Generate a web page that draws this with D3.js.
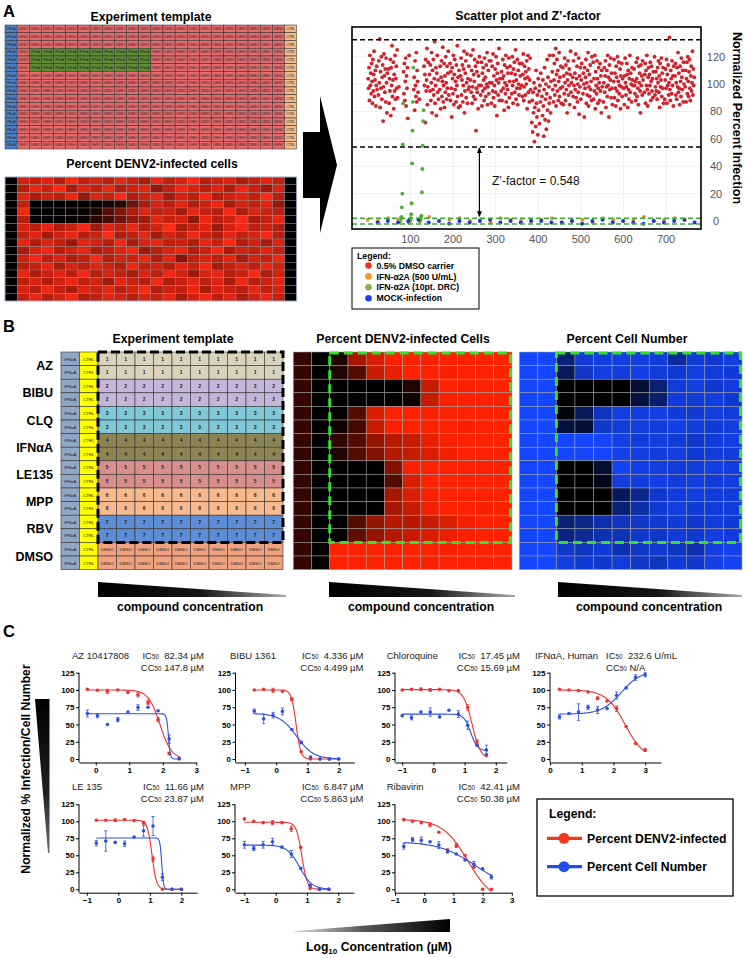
<!DOCTYPE html>
<html><head><meta charset="utf-8">
<script src="https://cdn.jsdelivr.net/npm/d3@7/dist/d3.min.js"></script>
<style>
body{margin:0;background:#fff}
svg{display:block}
text{font-family:"Liberation Sans",Arial,Helvetica,sans-serif}
</style>
</head><body>
<svg id="fig" width="746" height="958"></svg>
<script>
// ===================== DATA =====================
// ---- Panel A : 384-well plates (16 rows x 24 cols) ----
const drcRows = [3, 4, 5];           // rows of plate 1 holding the IFN-α2A 10-pt DRC
const drcFirstCol = 2, drcLastCol = 11;
// DMSO carrier wells, columns 1..22 ; "x" marks an IFN-α2A DRC well
const plate1Dmso = [
 "104 97 112 88 121 99 108 93 115 102 86 118 95 107 124 91 103 110 84 99 113 96",
 "92 117 101 133 83 109 97 120 89 105 114 73 98 122 106 94 111 87 119 101 79 108",
 "111 86 104 95 118 77 112 99 128 91 103 116 82 107 95 121 89 104 113 97 125 90",
 "98 x x x x x x x x x x 109 93 115 88 102 119 84 106 97 112 75",
 "121 x x x x x x x x x x 96 105 81 117 99 91 123 87 110 102 94",
 "89 x x x x x x x x x x 113 99 107 72 118 95 103 126 85 98 116",
 "107 95 114 88 101 123 79 110 96 118 92 104 131 86 99 112 77 108 121 94 103 89",
 "96 113 82 105 117 91 102 127 87 99 115 83 106 94 120 101 89 113 97 108 124 92",
 "115 88 109 97 76 112 104 93 121 85 107 118 96 102 87 114 99 128 91 105 83 110",
 "84 106 119 92 103 114 87 99 111 124 79 95 108 117 90 101 122 86 104 96 113 98",
 "103 121 94 110 86 98 125 91 107 102 118 89 113 66 97 109 94 116 82 106 99 120",
 "92 99 116 84 108 95 112 103 88 119 97 105 91 114 100 123 85 98 110 93 117 101",
 "117 86 101 113 95 122 90 106 99 84 111 94 120 103 77 108 115 92 101 126 88 104",
 "95 109 88 104 118 97 106 81 114 101 93 121 87 99 112 96 108 83 119 90 102 113",
 "108 93 120 99 86 111 102 116 94 107 125 89 103 97 118 85 110 100 92 115 97 106",
 "99 115 91 107 122 88 98 113 104 92 109 100 117 82 105 121 94 111 87 103 119 96"
];
const plate2Dmso = [
 "72 88 65 94 79 101 58 83 97 69 110 86 76 92 63 104 81 95 71 99 87 108",
 "91 77 103 84 62 96 112 74 89 100 67 93 118 81 105 73 98 86 121 90 79 102",
 "109 96 121 87 103 115 92 99 126 84 107 118 95 110 88 102 123 91 105 97 113 86",
 "98 112 85 106 93 119 101 88 114 96 108 79 103 117 92 99 111 85 107 124 94 101",
 "105 91 117 99 83 108 96 122 90 104 113 87 100 94 119 78 106 98 112 89 103 115",
 "93 108 100 76 112 97 105 118 86 101 92 110 123 84 98 107 91 114 96 102 88 120",
 "116 89 104 95 121 82 109 99 93 117 104 86 97 112 101 88 115 95 106 79 110 98",
 "87 101 112 94 106 117 83 98 110 91 121 99 105 76 114 96 103 119 90 108 97 85",
 "102 118 90 108 97 84 113 105 95 120 88 102 116 93 99 111 82 106 98 115 91 104",
 "97 85 106 119 101 92 98 115 107 83 110 96 89 104 121 94 108 100 87 112 103 99",
 "111 99 93 102 88 116 104 91 119 97 85 113 101 108 95 79 114 99 106 92 117 103",
 "94 107 115 86 110 99 121 96 84 105 112 93 107 99 116 88 102 113 95 104 90 109",
 "120 92 98 109 95 104 89 112 101 117 94 106 83 115 98 103 119 91 108 97 112 86",
 "89 103 111 97 118 86 107 99 114 92 101 134 96 88 110 104 93 117 99 106 84 113",
 "106 115 92 101 89 112 98 123 94 108 97 85 113 102 91 119 105 96 110 87 116 100",
 "98 110 87 104 116 93 120 102 91 109 118 97 88 106 113 95 101 124 92 111 99 105"
];
// IFN-α2A 10-pt DRC values (cols 2..11) for rows 3,4,5 of plate 1
const drcValues = [
 [0, 0, 0, 1, 2, 3, 10, 20, 56, 86],
 [0, 0, 1, 2, 5, 13, 42, 66, 87, 112],
 [0, 0, 1, 3, 4, 21, 38, 55, 73, 81]
];
const ifnCtrlPlate1 = [1, 0, 2, 1, -1, 1, 3, 0, 1, 2, 0, 1, -1, 2, 1, 0];
const ifnCtrlPlate2 = [0, 1, 2, -1, 0, 1, -1, 2, 1, 0, 1, 3, 0, 1, 2, 1];
const mockPlate1 = [-1, 0, -1, 0, 1, -1, 0, -2, 0, -1, 0, 1, -1, 0, -1, 0];
const mockPlate2 = [0, -1, -1, 0, -2, 0, 1, -1, 0, -1, -2, 0, -1, 0, 1, -1];
const scatterXTicks = [100, 200, 300, 400, 500, 600, 700];
const scatterYTicks = [0, 20, 40, 60, 80, 100, 120];
const zBandLines = [132.4, 54];      // mean ± 3SD of DMSO (black dashed)
const zMockLines = [2.0, -2.2];      // mean ± 3SD of controls (green dashed)
const zFactorValue = "0.548";
const scatterLegendLabels = ["0.5% DMSO carrier", "IFN-α2A (500 U/mL)", "IFN-α2A (10pt. DRC)", "MOCK-infection"];

// ---- Panel B ----
const compoundNames = ["AZ", "BIBU", "CLQ", "IFNαA", "LE135", "MPP", "RBV", "DMSO"];
const templateLabels = ["1", "2", "3", "4", "5", "6", "7", "DMSO"];
// percent infection heat map, 16 rows x 12 cols (col0 IFNαA, col1 CTRL, cols 2..11 dilution series)
const infectionHeat = [
 [20,0,12,65,85,100,100,98,100,99,100,100],
 [20,0,12,33,78,92,100,100,98,100,100,99],
 [20,0,0,0,0,0,12,78,100,98,100,100],
 [20,0,0,0,0,0,6,78,97,100,100,99],
 [20,0,2,33,85,100,100,98,100,100,99,100],
 [20,0,6,26,78,98,100,100,100,98,100,100],
 [20,0,20,33,58,72,78,92,98,100,100,99],
 [20,0,13,33,52,72,78,85,95,100,99,100],
 [20,0,0,0,0,52,98,100,100,100,100,100],
 [20,0,0,0,0,33,85,100,100,99,100,100],
 [20,0,0,0,0,65,85,98,100,100,100,99],
 [20,0,0,0,0,65,78,95,100,100,98,100],
 [20,0,0,33,58,72,72,78,85,95,100,100],
 [20,0,0,38,58,72,78,85,92,98,100,100],
 [20,0,100,100,100,99,100,100,98,100,100,100],
 [20,0,100,99,100,100,100,98,100,100,99,100]
];
// percent cell number heat map
const cellHeat = [
 [100,100,45,85,88,90,88,86,60,85,82,88],
 [100,100,35,78,88,86,90,85,82,88,86,84],
 [100,100,0,0,0,0,20,45,85,88,80,86],
 [100,100,0,0,0,0,25,42,86,84,88,82],
 [100,100,5,35,75,88,86,90,84,82,88,85],
 [100,100,25,20,80,86,88,85,90,86,84,88],
 [100,100,100,100,98,90,86,88,84,78,86,88],
 [100,100,100,98,100,92,88,86,88,84,86,85],
 [100,100,0,0,20,95,90,88,86,85,90,86],
 [100,100,0,0,10,88,86,90,85,88,84,88],
 [100,100,0,0,0,35,55,80,86,88,85,84],
 [100,100,0,0,0,45,65,82,88,84,86,85],
 [100,100,45,55,68,75,78,82,84,80,86,84],
 [100,100,50,58,70,72,80,78,85,82,88,86],
 [100,100,80,75,84,70,78,82,74,70,88,92],
 [100,100,88,84,80,86,78,74,84,80,90,95]
];
const wedgeLabel = "compound concentration";

// ---- Panel C : dose–response ----
const doseNames = ["AZ 10417808", "BIBU 1361", "Chloroquine", "IFNαA, Human", "LE 135", "MPP", "Ribavirin"];
const ic50Text = ["82.34 µM", "4.336 µM", "17.45 µM", "232.6 U/mL", "11.66 µM", "6.847 µM", "42.41 µM"];
const cc50Text = ["147.8 µM", "4.499 µM", "15.69 µM", "N/A", "23.87 µM", "5.863 µM", "50.38 µM"];
const doseX = [
 [-0.25, 0.05, 0.35, 0.66, 0.96, 1.26, 1.56, 1.86, 2.19, 2.49],
 [-0.7, -0.4, -0.1, 0.2, 0.5, 0.8, 1.1, 1.4, 1.7, 2.0],
 [-1.0, -0.7, -0.4, -0.1, 0.2, 0.5, 0.8, 1.1, 1.4, 1.7],
 [0.3, 0.6, 0.9, 1.2, 1.5, 1.8, 2.1, 2.4, 2.7, 3.0],
 [-0.7, -0.4, -0.1, 0.2, 0.5, 0.8, 1.1, 1.4, 1.7, 2.0],
 [-1.0, -0.7, -0.4, -0.1, 0.2, 0.5, 0.8, 1.1, 1.4, 1.7],
 [-0.7, -0.4, -0.1, 0.2, 0.5, 0.8, 1.1, 1.4, 1.7, 2.0, 2.3]
];
const infY = [
 [101, 99.7, 98, 100, 96.5, 93, 82, 57, 8, 0],
 [100, 101, 99.5, 98, 86.7, 10.6, 0, 0, 0, 0],
 [100, 101, 101, 100, 101, 99, 99, 74.7, 25, 5.8],
 [101, 100, 99, 97, 88, 84, 73, 47, 22.6, 13],
 [101.5, 101.5, 101.5, 102.5, 101, 98, 44.8, 0, 0, 0],
 [103.5, 100, 98, 98, 98, 89, 61.6, 2, 0, 0],
 [102.5, 100, 98, 95, 84, 58, 64.5, 49.7, 32.5, 0, 0]
];
const infErr = [
 [0, 0, 3, 0, 0, 3, 3, 3, 2, 0],
 [0, 0, 3, 0, 2, 0, 0, 0, 0, 0],
 [0, 0, 2, 2, 0, 0, 0, 4, 3, 2],
 [0, 0, 0, 0, 2, 0, 4, 0, 0, 2],
 [0, 0, 2, 0, 0, 2, 4, 0, 0, 0],
 [0, 0, 0, 3, 0, 4, 0, 2, 0, 0],
 [0, 0, 0, 3, 0, 0, 3, 0, 0, 0, 0]
];
const cellY = [
 [66, 62.6, 50, 57, 68, 74.5, 75, 70, 29, 1],
 [69.4, 58.2, 63.6, 69, 42.8, 24, 3, 0, 0, 0],
 [62.6, 59.7, 68, 68, 61, 70.7, 65, 49, 20, 13],
 [61, 66, 68, 75, 71, 73, 92, 103, 118, 122],
 [68, 71, 69, 67, 77, 86, 93, 17.7, 0, 0],
 [65.5, 60, 65.5, 70, 62, 52, 31, 6, 0, 0],
 [63, 73, 72, 70, 65, 55, 52, 43, 37, 30, 18]
];
const cellErr = [
 [5, 3, 0, 3, 0, 4, 0, 0, 6, 0],
 [3, 7, 4, 5, 0, 2, 0, 0, 0, 0],
 [0, 3, 0, 6, 0, 0, 5, 6, 0, 7],
 [3, 0, 12, 3, 5, 0, 5, 0, 4, 3],
 [4, 15, 0, 4, 0, 8, 14, 5, 0, 0],
 [5, 3, 5, 5, 0, 5, 0, 0, 0, 0],
 [4, 3, 5, 0, 5, 0, 0, 0, 4, 0, 3]
];
// fitted 4-parameter logistic curves: [left plateau, right plateau, log midpoint, hill]
const infFit = [[100,0,1.916,2.5],[100,0,0.637,5.8],[100.5,0,1.242,3.2],[100,0,2.367,1.45],[101.5,0,1.067,6],[98.5,0,0.835,5],[103,-20,1.5,1.0]];
const cellFit = [[65.5,0,2.17,15],[66,0,0.653,1.6],[65,12,1.196,4],[65,128,2.25,1.4],[75.5,0,1.378,15],[65,0,0.768,2.2],[70,0,1.75,0.7]];
const doseYTicks = [0, 25, 50, 75, 100, 125];
const doseLegendLabels = ["Percent DENV2-infected", "Percent Cell Number"];

// ===================== LAYOUT / STYLE =====================
const RED_C = "#ee3030", BLUE_C = "#2f4fe0";
const svg = d3.select("#fig");
svg.append("rect").attr("width", 746).attr("height", 958).attr("fill", "#fff");
const defs = svg.append("defs");
function grad(id, x2, y2, stops) {
  const g = defs.append("linearGradient").attr("id", id).attr("x1", 0).attr("y1", 0).attr("x2", x2).attr("y2", y2);
  stops.forEach(s => g.append("stop").attr("offset", s[0]).attr("stop-color", s[1]));
}
grad("wedgeH", 1, 0, [[0, "#000"], [0.55, "#151515"], [1, "#a8a8a8"]]);
grad("wedgeV", 0, 1, [[0, "#000"], [0.6, "#202020"], [1, "#707070"]]);
grad("wedgeLog", 1, 0, [[0, "#d8d8d8"], [0.45, "#555"], [1, "#000"]]);

function addText(p, x, y, s, size, weight, anchor, fill) {
  return p.append("text").attr("x", x).attr("y", y).attr("font-size", size)
    .attr("font-weight", weight || "normal").attr("text-anchor", anchor || "start")
    .attr("fill", fill || "#000").text(s);
}

// panel letters
addText(svg, 3, 17, "A", 16.5, "bold");
addText(svg, 3, 332, "B", 16.5, "bold");
addText(svg, 3, 637, "C", 16.5, "bold");

// ===================== PANEL A =====================
function parseRow(s) { return s.trim().split(/\s+/); }
const wells = [];
[[plate1Dmso, ifnCtrlPlate1, mockPlate1], [plate2Dmso, ifnCtrlPlate2, mockPlate2]].forEach((pl, p) => {
  const rows = pl[0].map(parseRow);
  for (let r = 0; r < 16; r++) {
    for (let c = 0; c < 24; c++) {
      let type, v;
      if (c === 0) { type = "ifn"; v = pl[1][r]; }
      else if (c === 23) { type = "mock"; v = pl[2][r]; }
      else if (p === 0 && drcRows.includes(r) && c >= drcFirstCol && c <= drcLastCol) {
        type = "drc"; v = drcValues[drcRows.indexOf(r)][c - drcFirstCol];
      } else { type = "dmso"; v = +rows[r][c - 1]; }
      if (v === undefined || isNaN(v)) continue;
      wells.push({ p, r, c, type, v, idx: p * 384 + r * 24 + c });
    }
  }
});
const plate1 = wells.filter(d => d.p === 0);

// template
const xA = d3.scaleBand().domain(d3.range(24)).range([5, 296.7]);
const yAt = d3.scaleBand().domain(d3.range(16)).range([25, 149]);
const yAh = d3.scaleBand().domain(d3.range(16)).range([177, 301]);
const tplFill = { ifn: "#4b80c6", mock: "#f2b98a", drc: "#5f8d33", dmso: "#e66a6c" };
const tplText = { ifn: "IFNαA", mock: "CTRL", drc: "IFNαA", dmso: "DMSO" };
addText(svg, 151, 20.5, "Experiment template", 12.3, "bold", "middle");
const gTA = svg.append("g");
gTA.selectAll("rect").data(plate1).join("rect")
  .attr("x", d => xA(d.c)).attr("y", d => yAt(d.r))
  .attr("width", xA.bandwidth()).attr("height", yAt.bandwidth())
  .attr("fill", d => tplFill[d.type]).attr("stroke", "#2a2a2a").attr("stroke-width", 0.5);
gTA.selectAll("text").data(plate1).join("text")
  .attr("x", d => xA(d.c) + xA.bandwidth() / 2).attr("y", d => yAt(d.r) + yAt.bandwidth() / 2 + 1.2)
  .attr("text-anchor", "middle").attr("font-size", 3.2).attr("fill", "#222").text(d => tplText[d.type]);

// heat map A
addText(svg, 152, 167.5, "Percent DENV2-infected cells", 12.3, "bold", "middle");
const redHeatA = d3.scaleLinear().domain([0, 128]).range(["#000000", "#ff2a14"]).clamp(true);
const gHA = svg.append("g");
gHA.selectAll("rect").data(plate1).join("rect")
  .attr("x", d => xA(d.c)).attr("y", d => yAh(d.r))
  .attr("width", xA.bandwidth()).attr("height", yAh.bandwidth())
  .attr("fill", d => redHeatA(Math.max(0, d.v))).attr("stroke", "#8a8a8a").attr("stroke-width", 0.35);
svg.append("rect").attr("x", 5).attr("y", 177).attr("width", 291.7).attr("height", 124)
  .attr("fill", "none").attr("stroke", "#9fb6d6").attr("stroke-width", 0.8);

// big arrow
svg.append("path").attr("d", "M303,132 L320,132 L320,96 L337,165 L320,233 L320,198 L303,198 Z").attr("fill", "#000");

// scatter
const sx = d3.scaleLinear().domain([-37, 782]).range([352, 701]);
const sy = d3.scaleLinear().domain([-5.8, 141.7]).range([229, 27]);
addText(svg, 528, 19.5, "Scatter plot and Z’-factor", 12.3, "bold", "middle");
const gS = svg.append("g");
gS.selectAll(".gx").data(scatterXTicks).join("line").attr("class", "gx")
  .attr("x1", d => sx(d)).attr("x2", d => sx(d)).attr("y1", 27).attr("y2", 229)
  .attr("stroke", "#ececec").attr("stroke-width", 0.8);
gS.selectAll(".gy").data(scatterYTicks).join("line").attr("class", "gy")
  .attr("y1", d => sy(d)).attr("y2", d => sy(d)).attr("x1", 352).attr("x2", 701)
  .attr("stroke", "#ececec").attr("stroke-width", 0.8);
const scatCol = { dmso: "#d0232b", drc: "#5aab3a", ifn: "#f0892a", mock: "#1f33dc" };
["dmso", "drc", "ifn", "mock"].forEach(t => {
  gS.selectAll(".pt-" + t).data(wells.filter(d => d.type === t)).join("circle").attr("class", "pt-" + t)
    .attr("cx", d => sx(d.idx)).attr("cy", d => sy(d.v)).attr("r", 1.95).attr("fill", scatCol[t]);
});
gS.selectAll(".zb").data(zBandLines).join("line").attr("class", "zb")
  .attr("x1", 352).attr("x2", 701).attr("y1", d => sy(d)).attr("y2", d => sy(d))
  .attr("stroke", "#000").attr("stroke-width", 1.5).attr("stroke-dasharray", "5,3");
gS.selectAll(".zm").data(zMockLines).join("line").attr("class", "zm")
  .attr("x1", 352).attr("x2", 701).attr("y1", d => sy(d)).attr("y2", d => sy(d))
  .attr("stroke", "#33b033").attr("stroke-width", 1.5).attr("stroke-dasharray", "5,3");
// Z' arrow
const arX = sx(262);
gS.append("line").attr("x1", arX).attr("x2", arX).attr("y1", sy(zBandLines[1]) + 2).attr("y2", sy(zMockLines[0]) - 3)
  .attr("stroke", "#000").attr("stroke-width", 1.2);
gS.append("path").attr("d", `M${arX - 2.5},${sy(zBandLines[1]) + 6} L${arX},${sy(zBandLines[1])} L${arX + 2.5},${sy(zBandLines[1]) + 6} Z`).attr("fill", "#000");
gS.append("path").attr("d", `M${arX - 2.5},${sy(zMockLines[0]) - 7} L${arX},${sy(zMockLines[0]) - 1} L${arX + 2.5},${sy(zMockLines[0]) - 7} Z`).attr("fill", "#000");
addText(gS, 492, 184.5, "Z’-factor = " + zFactorValue, 12, "normal", "start", "#111");
gS.append("rect").attr("x", 352).attr("y", 27).attr("width", 349).attr("height", 202)
  .attr("fill", "none").attr("stroke", "#000").attr("stroke-width", 1.6);
gS.selectAll(".xl").data(scatterXTicks).join("text").attr("class", "xl")
  .attr("x", d => sx(d)).attr("y", 243).attr("text-anchor", "middle").attr("font-size", 11).attr("fill", "#555").text(d => d);
gS.selectAll(".yl").data(scatterYTicks).join("text").attr("class", "yl")
  .attr("x", 716).attr("y", d => sy(d) + 4).attr("text-anchor", "middle").attr("font-size", 11).attr("fill", "#555").text(d => d);
svg.append("text").attr("transform", "translate(737,118) rotate(90)").attr("dy", "0.35em")
  .attr("text-anchor", "middle").attr("font-size", 12.5).attr("font-weight", "bold").text("Normalized Percent Infection");
// scatter legend
const gL = svg.append("g");
gL.append("rect").attr("x", 352).attr("y", 248).attr("width", 127).attr("height", 61)
  .attr("fill", "#fff").attr("stroke", "#000").attr("stroke-width", 1);
addText(gL, 357, 258.5, "Legend:", 8.7, "bold");
const legCols = ["#ee3322", "#f39a2c", "#86b04a", "#2040e6"];
scatterLegendLabels.forEach((s, i) => {
  const cy = 265.5 + i * 10.9;
  gL.append("circle").attr("cx", 368.5).attr("cy", cy).attr("r", 3.3).attr("fill", legCols[i]);
  addText(gL, 376.5, cy + 3.1, s, 8.7, "bold");
});

// ===================== PANEL B =====================
const xB = d3.scaleBand().domain(d3.range(12)).range([61, 283]);
const yB = d3.scaleBand().domain(d3.range(16)).range([352, 569.6]);
const compoundColors = ["#d9d3be", "#c6b5da", "#80c7d7", "#8c8553", "#d98e8e", "#f6ba8e", "#5d8dd5", "#f2a27e"];
addText(svg, 173, 343, "Experiment template", 12.3, "bold", "middle");
const tplB = [];
for (let r = 0; r < 16; r++) for (let c = 0; c < 12; c++) {
  const g = Math.floor(r / 2);
  tplB.push({ r, c, g, fill: c === 0 ? "#8fa6c6" : c === 1 ? "#ffff00" : compoundColors[g],
    label: c === 0 ? "IFNαA" : c === 1 ? "CTRL" : templateLabels[g] });
}
const gTB = svg.append("g");
gTB.selectAll("rect").data(tplB).join("rect")
  .attr("x", d => xB(d.c)).attr("y", d => yB(d.r)).attr("width", xB.bandwidth()).attr("height", yB.bandwidth())
  .attr("fill", d => d.fill).attr("stroke", "#333").attr("stroke-width", 0.6);
gTB.selectAll("text").data(tplB).join("text")
  .attr("x", d => xB(d.c) + xB.bandwidth() / 2).attr("y", d => yB(d.r) + yB.bandwidth() / 2 + 1.7)
  .attr("text-anchor", "middle").attr("font-weight", d => d.c >= 2 && d.g < 7 ? "bold" : "normal")
  .attr("font-size", d => d.c >= 2 && d.g < 7 ? 5 : 4.2).attr("fill", "#222").text(d => d.label);
gTB.append("rect").attr("x", xB(2)).attr("y", yB(0)).attr("width", 283 - xB(2)).attr("height", yB(14) - yB(0))
  .attr("fill", "none").attr("stroke", "#000").attr("stroke-width", 3).attr("stroke-dasharray", "9,4");
compoundNames.forEach((n, i) => {
  addText(svg, 53, yB(2 * i) + yB.bandwidth() + 4.5, n, 12.5, "bold", "end");
});

function heatB(data, x0, x1, colorEnd, title, titleX) {
  const xs = d3.scaleBand().domain(d3.range(12)).range([x0, x1]);
  const col = d3.scaleLinear().domain([0, 100]).range(["#000000", colorEnd]).clamp(true);
  const cells = [];
  data.forEach((row, r) => row.forEach((v, c) => cells.push({ r, c, v })));
  const g = svg.append("g");
  g.selectAll("rect").data(cells).join("rect")
    .attr("x", d => xs(d.c)).attr("y", d => yB(d.r)).attr("width", xs.bandwidth()).attr("height", yB.bandwidth())
    .attr("fill", d => col(d.v)).attr("stroke", "#a0a0a0").attr("stroke-width", 0.5);
  g.append("rect").attr("x", xs(2)).attr("y", yB(0) + 1).attr("width", x1 - xs(2) - 1.5).attr("height", yB(14) - yB(0) - 1)
    .attr("fill", "none").attr("stroke", "#33e02a").attr("stroke-width", 3).attr("stroke-dasharray", "9,5");
  addText(svg, titleX, 343, title, 12.3, "bold", "middle");
}
heatB(infectionHeat, 293.3, 512, "#ff2200", "Percent DENV2-infected Cells", 403);
heatB(cellHeat, 519.3, 742, "#1446ff", "Percent Cell Number", 627);

// concentration wedges
[[98, 286, 190], [329, 515, 421], [558, 742, 649]].forEach(w => {
  svg.append("path").attr("d", `M${w[0]},582 L${w[1]},595 L${w[1]},597 L${w[0]},597 Z`).attr("fill", "url(#wedgeH)");
  addText(svg, w[2], 611, wedgeLabel, 12.2, "bold", "middle");
});

// ===================== PANEL C =====================
const doseLayout = [
  { left: 79, right: 196.3, xDomain: [-0.5, 3], ticks: [0, 1, 2, 3], row: 0, titleX: 72, labelRight: 204 },
  { left: 235.5, right: 354.4, xDomain: [-1.3, 2.5], ticks: [-1, 0, 1, 2], row: 0, titleX: 230, labelRight: 363.5 },
  { left: 395, right: 506.7, xDomain: [-1.23, 2.35], ticks: [-1, 0, 1, 2], row: 0, titleX: 386.7, labelRight: 520 },
  { left: 550, right: 661, xDomain: [0, 3.5], ticks: [0, 1, 2, 3], row: 0, titleX: 535, labelRight: 677 },
  { left: 79, right: 197.1, xDomain: [-1.25, 2.5], ticks: [-1, 0, 1, 2], row: 1, titleX: 72, labelRight: 204 },
  { left: 235, right: 353.9, xDomain: [-1.3, 2.5], ticks: [-1, 0, 1, 2], row: 1, titleX: 230, labelRight: 363.5 },
  { left: 395, right: 511.8, xDomain: [-1, 3], ticks: [-1, 0, 1, 2, 3], row: 1, titleX: 386.7, labelRight: 520 }
];
const rowGeom = [{ yRange: [762.5, 672.7], t1: 659.4, t2: 671.2, xl: 773.5 }, { yRange: [892.7, 804.3], t1: 790.4, t2: 801.7, xl: 902.5 }];
function logistic(p, x) { return p[1] + (p[0] - p[1]) / (1 + Math.pow(10, p[3] * (x - p[2]))); }

doseLayout.forEach((L, i) => {
  const G = rowGeom[L.row];
  const x = d3.scaleLinear().domain(L.xDomain).range([L.left, L.right]);
  const y = d3.scaleLinear().domain([-5, 125]).range(G.yRange);
  const g = svg.append("g");
  // titles
  addText(g, L.titleX, G.t1, doseNames[i], 9.5, "normal", "start", "#222");
  const t1 = g.append("text").attr("x", L.labelRight).attr("y", G.t1).attr("text-anchor", "end")
    .attr("font-size", 9.5).attr("fill", "#222").style("white-space", "pre");
  t1.append("tspan").text("IC");
  t1.append("tspan").attr("font-size", 6.3).text("50");
  t1.append("tspan").text("  " + ic50Text[i]);
  const t2 = g.append("text").attr("y", G.t2).attr("font-size", 9.5).attr("fill", "#222").style("white-space", "pre");
  t2.append("tspan").text("CC");
  t2.append("tspan").attr("font-size", 6.3).text("50");
  t2.append("tspan").text(" " + cc50Text[i]);
  if (cc50Text[i] === "N/A") t2.attr("x", t1.node().getBBox().x).attr("text-anchor", "start");
  else t2.attr("x", L.labelRight).attr("text-anchor", "end");
  // axes
  const ay = g.append("g").attr("transform", `translate(${L.left},0)`)
    .call(d3.axisLeft(y).tickValues(doseYTicks).tickSize(3).tickSizeOuter(0).tickPadding(1.5));
  const ax = g.append("g").attr("transform", `translate(0,${y(-5)})`)
    .call(d3.axisBottom(x).tickValues(L.ticks).tickSize(3).tickSizeOuter(0).tickPadding(2).tickFormat(d3.format("d")));
  [ay, ax].forEach(a => {
    a.selectAll("text").attr("font-size", 8).attr("font-weight", "bold").attr("fill", "#000")
      .attr("font-family", '"Liberation Sans",Arial,sans-serif');
    a.selectAll("path,line").attr("stroke", "#000").attr("stroke-width", 1);
  });
  ay.select(".domain").attr("d", `M0,${y(125)}V${y(-5)}`);
  // curves & points
  [[infFit[i], infY[i], infErr[i], RED_C], [cellFit[i], cellY[i], cellErr[i], BLUE_C]].forEach(s => {
    const xs = doseX[i];
    const xmin = d3.min(xs), xmax = d3.max(xs);
    const samples = d3.range(0, 201).map(k => xmin + (xmax - xmin) * k / 200);
    g.append("path").attr("d", d3.line().x(d => x(d)).y(d => y(logistic(s[0], d)))(samples))
      .attr("fill", "none").attr("stroke", s[3]).attr("stroke-width", 1.1);
    xs.forEach((xv, k) => {
      const v = s[1][k], e = s[2][k];
      if (e > 0) {
        g.append("line").attr("x1", x(xv)).attr("x2", x(xv)).attr("y1", y(v - e)).attr("y2", y(v + e)).attr("stroke", s[3]).attr("stroke-width", 0.8);
        [v - e, v + e].forEach(ev => g.append("line").attr("x1", x(xv) - 1.6).attr("x2", x(xv) + 1.6)
          .attr("y1", y(ev)).attr("y2", y(ev)).attr("stroke", s[3]).attr("stroke-width", 0.8));
      }
      g.append("circle").attr("cx", x(xv)).attr("cy", y(v)).attr("r", 1.8).attr("fill", s[3]);
    });
  });
});

// Panel C axis label and wedges
svg.append("text").attr("transform", "translate(26,769) rotate(-90)").attr("dy", "0.35em")
  .attr("text-anchor", "middle").attr("font-size", 12.2).attr("font-weight", "bold").text("Normalized % Infection/Cell Number");
svg.append("path").attr("d", "M35,699 L49.5,699 L49.5,853 L48,853 Z").attr("fill", "url(#wedgeV)");
svg.append("path").attr("d", "M295,931 L450,919 L450,932 L295,932 Z").attr("fill", "url(#wedgeLog)");
const lt = svg.append("text").attr("x", 306).attr("y", 951).attr("font-size", 12.2).attr("font-weight", "bold");
lt.append("tspan").text("Log");
lt.append("tspan").attr("font-size", 8).attr("dy", 3).text("10");
lt.append("tspan").attr("dy", -3).text(" Concentration (µM)");

// Panel C legend
const gCL = svg.append("g");
gCL.append("rect").attr("x", 537).attr("y", 799).attr("width", 196).attr("height", 97)
  .attr("fill", "#fff").attr("stroke", "#000").attr("stroke-width", 1.3);
addText(gCL, 549, 817.5, "Legend:", 12.2, "bold");
[["#f23a22", 838.3], ["#1f4fe8", 866.7]].forEach((it, i) => {
  gCL.append("line").attr("x1", 547).attr("x2", 582).attr("y1", it[1]).attr("y2", it[1]).attr("stroke", it[0]).attr("stroke-width", 3.2);
  gCL.append("circle").attr("cx", 564).attr("cy", it[1]).attr("r", 5.5).attr("fill", it[0]);
  addText(gCL, 587, it[1] + 4.4, doseLegendLabels[i], 12.2, "bold");
});
</script>
</body></html>
